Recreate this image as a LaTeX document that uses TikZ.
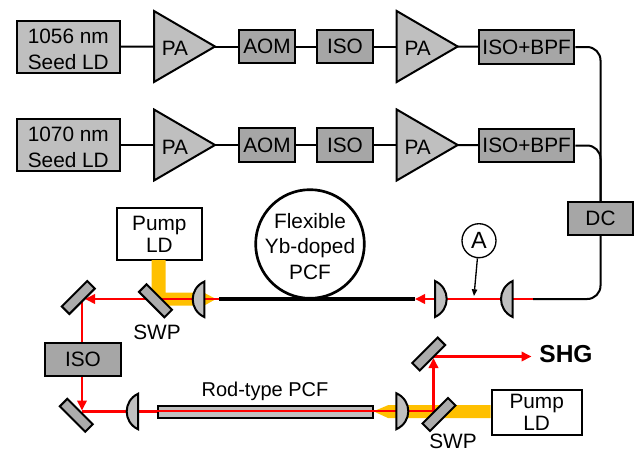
\documentclass[tikz,border=0pt]{standalone}
\usepackage{fontspec}
\setmainfont{Liberation Sans}
\usetikzlibrary{arrows.meta}
\definecolor{lightg}{HTML}{BFBFBF}
\definecolor{darkg}{HTML}{A6A6A6}
\definecolor{beam}{HTML}{FF0000}
\definecolor{pumpc}{HTML}{FFC000}
\tikzset{
  x=.75pt,y=-.75pt,
  txt/.style={font=\fontsize{15.6}{19}\selectfont,align=center,inner sep=0pt},
  seedbox/.style={txt,draw=black,line width=1.5pt,fill=lightg,minimum width=77.6pt,minimum height=39.4pt,font=\fontsize{15.6}{19.5}\selectfont},
  unitbox/.style={txt,draw=black,line width=1.5pt,fill=darkg,minimum height=24.8pt},
  pumpbox/.style={txt,draw=black,line width=1.5pt,fill=white,font=\fontsize{15.6}{16.5}\selectfont},
  link/.style={draw=black,line width=1.5pt},
  fibre/.style={draw=black,line width=1.5pt,rounded corners=10pt},
  ampshape/.style={draw=black,line width=1.5pt,fill=lightg,line join=miter},
  lensshape/.style={draw=black,line width=1.5pt,fill=lightg},
  mirror/.style={draw=black,line width=1.5pt,fill=lightg!90!black,minimum width=27pt,minimum height=8pt,inner sep=0pt},
  ray/.style={draw=beam,line width=2pt},
  rayarrow/.style={ray,-{Triangle[length=7.5pt,width=7pt,fill=beam]}},
  pumpbeam/.style={fill=pumpc,draw=none},
}
\newcommand{\ampl}[3]{%
  \draw[ampshape] (#2,#3-35.5) -- (#2+61,#3) -- (#2,#3+35.5) -- cycle;
  \coordinate (#1w) at (#2,#3);
  \coordinate (#1e) at (#2+61,#3);
  \node[txt] (#1) at (#2+21,#3+2) {PA};
}
\newcommand{\lensdraw}[5]{% name, flat x, bulge x, y centre, half height
  \pgfmathsetmacro{\ctrlx}{#2+(#3-#2)*4/3}
  \draw[lensshape] (#2,#4-#5) .. controls (\ctrlx,#4-#5*.6) and (\ctrlx,#4+#5*.6) .. (#2,#4+#5) -- cycle;
  \coordinate (#1) at (#2,#4);
}
\newcommand{\lowerby}{\rule{0pt}{14.5pt}}
\begin{document}
\begin{tikzpicture}
\useasboundingbox (0,0) rectangle (636,451);

% units, top row
\node[seedbox] (seedA) at (68.3,47) {\lowerby 1056 nm\\Seed LD};
\ampl{paA}{154}{46.5}
\node[unitbox,minimum width=42pt] (aomA) at (267,46.5) {AOM};
\node[unitbox,minimum width=42pt] (isoA) at (345,46.5) {ISO};
\ampl{paB}{396.7}{46.5}
\node[unitbox,minimum width=71.5pt] (bpfA) at (526.7,47) {ISO+BPF};

% units, second row
\node[seedbox] (seedB) at (68.3,145) {\lowerby 1070 nm\\Seed LD};
\ampl{paC}{154}{145}
\node[unitbox,minimum width=42pt] (aomB) at (267,145) {AOM};
\node[unitbox,minimum width=42pt] (isoB) at (345,145) {ISO};
\ampl{paD}{396.7}{145}
\node[unitbox,minimum width=71.5pt] (bpfB) at (526.7,145.5) {ISO+BPF};

\node[unitbox,minimum width=48.7pt] (dc) at (600.5,218.5) {DC};

\draw[link] (seedA) -- (paAw);
\draw[link] (paAe) -- (aomA);
\draw[link] (aomA) -- (isoA);
\draw[link] (isoA) -- (paBw);
\draw[link] (paBe) -- (bpfA);
\draw[link] (seedB) -- (paCw);
\draw[link] (paCe) -- (aomB);
\draw[link] (aomB) -- (isoB);
\draw[link] (isoB) -- (paDw);
\draw[link] (paDe) -- (bpfB);
\draw[fibre] (bpfA.east) -| (dc.north);
\draw[fibre] (bpfB.east) -| (dc.north);

% free ends
\coordinate (fibreEnd) at (533,299);
\coordinate (gainIn) at (415,299);
\coordinate (gainOut) at (219,299);

\draw[fibre] (dc.south) |- (fibreEnd);
\node[draw=black,line width=2pt,fill=white,circle,minimum size=81.5pt,inner sep=0pt] (coil) at (310,244) {};
\node[txt,font=\fontsize{15.6}{18.8}\selectfont] (coiltext) at (310,246.5) {Flexible\\Yb-doped\\PCF};
\draw[black,line width=2.4pt] (gainIn) -- (gainOut);

% rod
\node[draw=black,line width=1.5pt,fill=lightg,minimum width=161.7pt,minimum height=9.2pt,inner sep=0pt] (rod) at (265.5,411.8) {};
\node[txt,font=\fontsize{15}{18}\selectfont] (rodlabel) at (265,391) {Rod-type PCF};

% pump boxes
\node[pumpbox,minimum width=64pt,minimum height=39.4pt] (pumpA) at (159.3,234) {Pump\\LD};
\node[pumpbox,minimum width=67.5pt,minimum height=34pt] (pumpB) at (536.7,412.2) {Pump\\LD};

% mirrors' positions used by the beams
\coordinate (mTLc) at (82,299);
\coordinate (mBLc) at (82,411);
\coordinate (mTRc) at (433.5,356.5);
\coordinate (swpBc) at (433.5,411);
\coordinate (shgEnd) at (531.5,356.5);

% pump beams
\fill[pumpbeam] (151.7,260) -- (165.7,260) -- (165.7,292.7) -- (204,292.7) -- (216,299) -- (204,305.7) -- (160,305.7) -- (151.7,295) -- cycle;
\fill[pumpbeam] (pumpB.west |- 0,405.2) -- (388,405.2) -- (373.5,411.3) -- (388,418) -- (pumpB.west |- 0,418) -- cycle;

% signal beams
\draw[ray] (fibreEnd) -- (424,299);
\draw[rayarrow] (424,299) -- (gainIn);
\draw[rayarrow] (gainOut) -- (85,299);
\draw[ray] (mTLc) -- (82,400);
\draw[rayarrow] (82,385) -- (82,410.5);
\draw[ray] (157,411.3) -- (mBLc |- 0,411.3);
\draw[ray] (swpBc) -- (157,411);
\draw[rayarrow] (swpBc) -- (433.5,358);
\draw[rayarrow] (mTRc) -- (shgEnd);

% lenses
\lensdraw{lensR}{512.7}{501}{299}{18}
\lensdraw{lensC}{435}{446.7}{299}{18}
\lensdraw{lensG}{204.3}{192.7}{299.3}{17.7}
\lensdraw{lensD}{138}{126.7}{411.5}{17.7}
\lensdraw{lensE}{396.3}{408.3}{411.2}{18}

% mirrors
\node[mirror,rotate=45] (mTL) at (78.3,297.5) {};
\node[mirror,rotate=-45] (swpA) at (155.5,300.8) {};
\node[mirror,rotate=-45] (mBL) at (76.3,415.3) {};
\node[mirror,rotate=45] (mTR) at (428.7,354) {};
\node[mirror,rotate=45] (swpB) at (439,414.5) {};

\node[unitbox,minimum width=57pt] (iso) at (83,359.5) {ISO};

% labels
\node[txt] (swpAlabel) at (157,332) {SWP};
\node[txt] (swpBlabel) at (453,441) {SWP};
\node[txt,font=\fontsize{18.4}{22}\selectfont\bfseries] (shg) at (566,354.5) {SHG};

% marker A
\node[draw=black,line width=1pt,fill=white,circle,minimum size=25.5pt,inner sep=0pt,txt,font=\fontsize{17.6}{20}\selectfont] (markA) at (479,240.7) {A};
\coordinate (markTip) at (474,296);
\draw[black,line width=1pt,-{Triangle[length=5pt,width=4pt]}] (markA) -- (markTip);
\end{tikzpicture}
\end{document}
